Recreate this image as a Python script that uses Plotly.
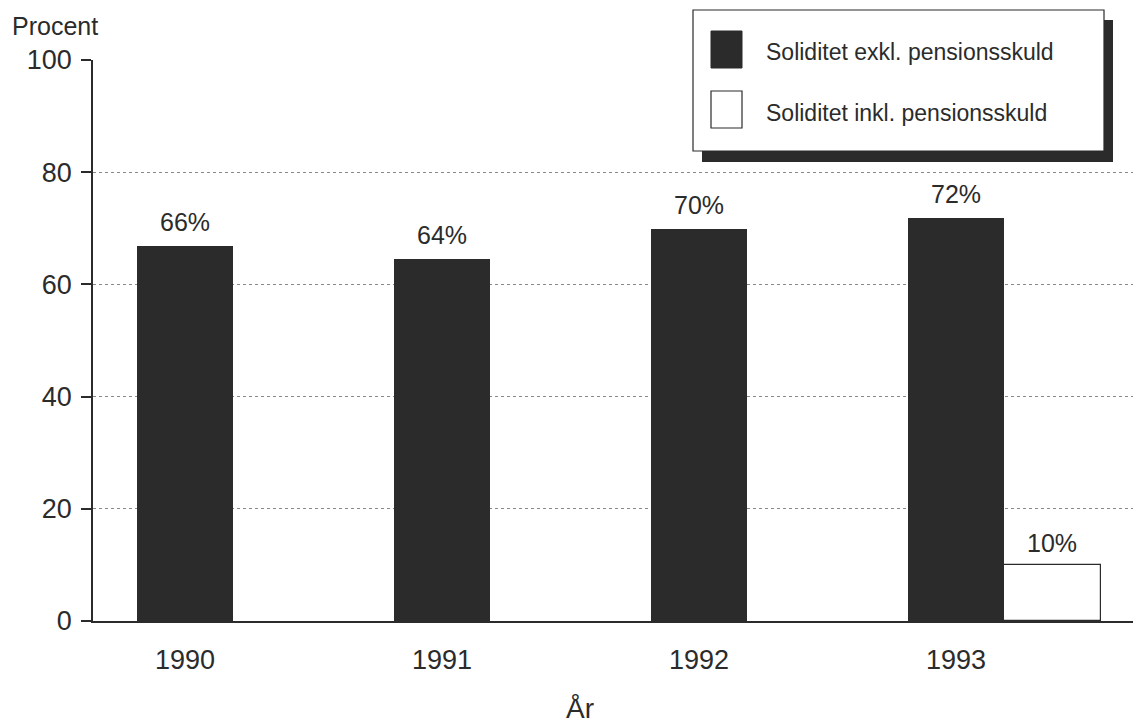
import plotly.graph_objects as go

years = ["1990", "1991", "1992", "1993"]
exkl_values = [66.8, 64.5, 69.8, 71.8]
exkl_labels = ["66%", "64%", "70%", "72%"]
inkl_years = ["1993"]
inkl_values = [10.0]
inkl_labels = ["10%"]
y_ticks = [0, 20, 40, 60, 80, 100]

FONT = "Liberation Sans, Arial, sans-serif"
INK = "#2b2b2b"

xpos = {y: i for i, y in enumerate(years)}
W = 0.375

fig = go.Figure()
fig.add_trace(go.Bar(
    x=[xpos[y] for y in years], y=exkl_values, width=W, offset=-W / 2,
    marker=dict(color=INK, line=dict(width=0)),
    name="Soliditet exkl. pensionsskuld", showlegend=False,
))
fig.add_trace(go.Bar(
    x=[xpos[y] for y in inkl_years], y=inkl_values, width=W, offset=W / 2,
    marker=dict(color="white", line=dict(width=1.2, color=INK)),
    name="Soliditet inkl. pensionsskuld", showlegend=False,
))

# value labels above bars
for y, v, t in zip(years, exkl_values, exkl_labels):
    fig.add_annotation(x=xpos[y], y=v, text=t, showarrow=False,
                       xanchor="center", yanchor="bottom", yshift=8,
                       font=dict(family=FONT, size=25, color=INK))
for y, v, t in zip(inkl_years, inkl_values, inkl_labels):
    fig.add_annotation(x=xpos[y] + W, y=v, text=t, showarrow=False,
                       xanchor="center", yanchor="bottom", yshift=6,
                       font=dict(family=FONT, size=25, color=INK))

# screen plot area: x 93..1141, y 60..621 (page has 8px body margin)
PL, PR, PT, PB = 93, 1141, 60, 621

fig.update_layout(
    width=1133, height=719,
    margin=dict(l=PL - 8, r=0, t=PT - 8, b=719 - (PB - 8)),
    paper_bgcolor="white", plot_bgcolor="white",
    barmode="overlay",
    font=dict(family=FONT, color=INK, size=27),
    xaxis=dict(
        range=[-0.358, 3.72], tickmode="array",
        tickvals=[xpos[y] for y in years], ticktext=years,
        showgrid=False, zeroline=False, showline=True, linecolor=INK, linewidth=1.5,
        ticks="", ticklabelstandoff=14, tickfont=dict(family=FONT, size=27, color=INK),
    ),
    yaxis=dict(
        range=[0, 100], tickmode="array", tickvals=y_ticks,
        showgrid=True, gridcolor="#888888", griddash="dot", gridwidth=1,
        zeroline=False, showline=True, linecolor=INK, linewidth=1.5,
        ticks="outside", ticklen=10, tickcolor=INK, tickwidth=1.5,
        ticklabelstandoff=4,
        tickfont=dict(family=FONT, size=27, color=INK),
    ),
    bargap=0,
)


def px(x):
    return (x - PL) / (PR - PL)


def py(y):
    return (PB - y) / (PB - PT)


# custom legend box with drop shadow
fig.add_shape(type="rect", xref="paper", yref="paper",
              x0=px(702), x1=px(1113), y0=py(162), y1=py(20),
              fillcolor=INK, line=dict(width=0), layer="above")
fig.add_shape(type="rect", xref="paper", yref="paper",
              x0=px(693), x1=px(1104), y0=py(151), y1=py(10),
              fillcolor="white", line=dict(width=1.2, color=INK), layer="above")
fig.add_shape(type="rect", xref="paper", yref="paper",
              x0=px(711), x1=px(742), y0=py(68), y1=py(31),
              fillcolor=INK, line=dict(width=1, color=INK), layer="above")
fig.add_shape(type="rect", xref="paper", yref="paper",
              x0=px(711), x1=px(742), y0=py(128), y1=py(91),
              fillcolor="white", line=dict(width=1.2, color=INK), layer="above")
fig.add_annotation(xref="paper", yref="paper", x=px(764), y=py(52),
                   xanchor="left", yanchor="middle", showarrow=False,
                   text="Soliditet exkl. pensionsskuld",
                   font=dict(family=FONT, size=23, color=INK))
fig.add_annotation(xref="paper", yref="paper", x=px(764), y=py(113),
                   xanchor="left", yanchor="middle", showarrow=False,
                   text="Soliditet inkl. pensionsskuld",
                   font=dict(family=FONT, size=23, color=INK))

fig.add_annotation(xref="paper", yref="paper", x=px(10), y=py(10),
                   xanchor="left", yanchor="top", showarrow=False,
                   text="Procent", font=dict(family=FONT, size=25, color=INK))
fig.add_annotation(xref="paper", yref="paper", x=px(580), y=py(708),
                   xanchor="center", yanchor="middle", showarrow=False,
                   text="År", font=dict(family=FONT, size=28, color=INK))

fig.write_html("out.html")
